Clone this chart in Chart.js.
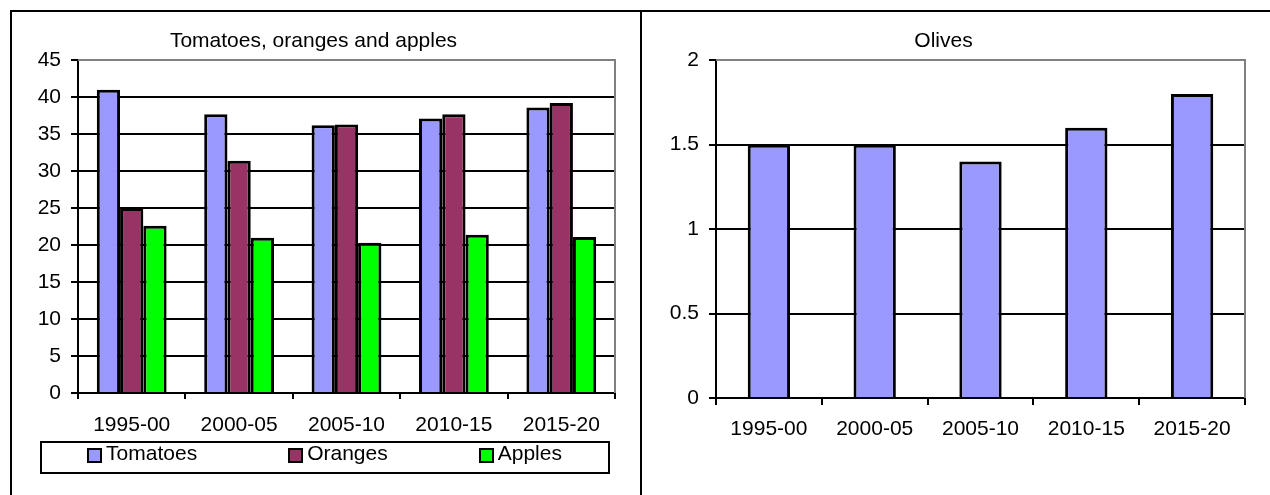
<!DOCTYPE html>
<html>
<head>
<meta charset="utf-8">
<title>Tomatoes, oranges, apples and olives</title>
<script src="https://cdn.jsdelivr.net/npm/chart.js@4.4.1/dist/chart.umd.min.js"></script>
<style>
  html, body { margin: 0; padding: 0; background: #fff; overflow: hidden; }
  .frame { position: absolute; left: 10px; top: 10px; width: 1260px; height: 485px; border-top: 2px solid #000; border-left: 2px solid #000; }
  .divider { position: absolute; left: 640px; top: 10px; width: 2px; height: 485px; background: #000; }
  .cell { position: absolute; top: 12px; width: 628px; height: 483px; }
</style>
</head>
<body>
<div class="frame"></div>
<div class="divider"></div>
<div class="cell" style="left:12px"><canvas id="fruitChart"></canvas></div>
<div class="cell" style="left:642px"><canvas id="olivesChart"></canvas></div>
<script>
// ==========================================
// Data
// ==========================================
const periods = ['1995-00', '2000-05', '2005-10', '2010-15', '2015-20'];
const tomatoes = [41, 37.7, 36.2, 37.1, 38.6];
const oranges = [25, 31.4, 36.3, 37.7, 39.2];
const apples = [22.6, 21, 20.3, 21.4, 21.1];
const olives = [1.5, 1.5, 1.4, 1.6, 1.8];
const fruitTicks = [0, 5, 10, 15, 20, 25, 30, 35, 40, 45];
const olivesTicks = [0, 0.5, 1, 1.5, 2];

const FONT = '"Liberation Sans", Arial, sans-serif';
Chart.defaults.font.family = FONT;
Chart.defaults.font.size = 21;
Chart.defaults.color = '#000';
Chart.defaults.animation = false;

// grey frame on top and right of the plot area (like Excel)
const plotFrame = {
    id: 'plotFrame',
    beforeDatasetsDraw(chart) {
        const a = chart.chartArea;
        const ctx = chart.ctx;
        const top = Math.round(a.top), right = Math.round(a.right);
        ctx.save();
        ctx.strokeStyle = '#808080';
        ctx.lineWidth = 2;
        ctx.beginPath();
        ctx.moveTo(a.left, top);
        ctx.lineTo(right, top);
        ctx.lineTo(right, Math.round(a.bottom));
        ctx.stroke();
        ctx.restore();
    }
};

// legend in a black box under the axis
const framedLegend = {
    id: 'framedLegend',
    afterDraw(chart, args, opts) {
        if (!opts.box) return;
        const ctx = chart.ctx;
        const b = opts.box;
        ctx.save();
        ctx.strokeStyle = '#000';
        ctx.lineWidth = 2;
        ctx.strokeRect(b.left, b.top, b.width, b.height);

        ctx.font = '21px ' + FONT;
        const sq = 13, gap = 5, spacing = 92;
        const items = chart.data.datasets.map(ds => ({
            text: ds.label, color: ds.backgroundColor, w: ctx.measureText(ds.label).width
        }));
        let total = 0;
        items.forEach((it, i) => { total += sq + gap + it.w + (i > 0 ? spacing : 0); });
        let x = b.left + b.width / 2 - total / 2;
        const cy = b.top + b.height / 2;
        ctx.textBaseline = 'middle';
        ctx.textAlign = 'left';
        items.forEach(it => {
            const sy = Math.round(cy - 2 - sq / 2);
            const sx = Math.round(x);
            ctx.fillStyle = it.color;
            ctx.fillRect(sx, sy, sq, sq);
            ctx.lineWidth = 2;
            ctx.strokeStyle = '#000';
            ctx.strokeRect(sx, sy, sq, sq);
            ctx.fillStyle = '#000';
            ctx.fillText(it.text, x + sq + gap, cy - 3);
            x += sq + gap + it.w + spacing;
        });
        ctx.restore();
    }
};

function makeOptions(title, tickList, yWidth, tickLen, xPad, bottomPad, legendBox) {
    return {
        responsive: true,
        maintainAspectRatio: false,
        layout: { padding: { left: 0, right: 25, top: 0, bottom: bottomPad } },
        plugins: {
            legend: { display: false },
            tooltip: { enabled: false },
            title: {
                display: true, text: title, color: '#000',
                font: { size: 21, weight: 'normal' },
                padding: { top: 17, bottom: 6 }
            },
            framedLegend: { box: legendBox }
        },
        scales: {
            x: {
                afterFit: s => { s.height = 40; },
                grid: { drawOnChartArea: false, tickLength: tickLen, lineWidth: 2, color: '#000', tickColor: '#000' },
                border: { color: '#000', width: 2 },
                ticks: { padding: xPad, color: '#000', maxRotation: 0, autoSkip: false }
            },
            y: {
                min: tickList[0],
                max: tickList[tickList.length - 1],
                afterBuildTicks: s => { s.ticks = tickList.map(v => ({ value: v })); },
                afterFit: s => { s.width = yWidth; },
                grid: { color: '#000', lineWidth: 2, tickLength: 7, tickColor: '#000' },
                border: { color: '#000', width: 2 },
                ticks: { padding: 10, color: '#000', callback: v => String(v) }
            }
        }
    };
}

// Grafik kiri: tomat, jeruk, apel
new Chart(document.getElementById('fruitChart'), {
    type: 'bar',
    data: {
        labels: periods,
        datasets: [
            { label: 'Tomatoes', data: tomatoes, backgroundColor: '#9999FF' },
            { label: 'Oranges', data: oranges, backgroundColor: '#993366' },
            { label: 'Apples', data: apples, backgroundColor: '#00FF00' }
        ].map(d => Object.assign(d, { borderColor: '#000', borderWidth: 3, categoryPercentage: 0.65, barPercentage: 1 }))
    },
    options: makeOptions('Tomatoes, oranges and apples', fruitTicks, 66, 6, 14, 62,
        { left: 29, top: 430, width: 568, height: 31 }),
    plugins: [plotFrame, framedLegend]
});

// Grafik kanan: zaitun
new Chart(document.getElementById('olivesChart'), {
    type: 'bar',
    data: {
        labels: periods,
        datasets: [
            { label: 'Olives', data: olives, backgroundColor: '#9999FF', borderColor: '#000', borderWidth: 3, categoryPercentage: 0.4, barPercentage: 1 }
        ]
    },
    options: makeOptions('Olives', olivesTicks, 74, 7, 12, 57, null),
    plugins: [plotFrame, framedLegend]
});
</script>
</body>
</html>
